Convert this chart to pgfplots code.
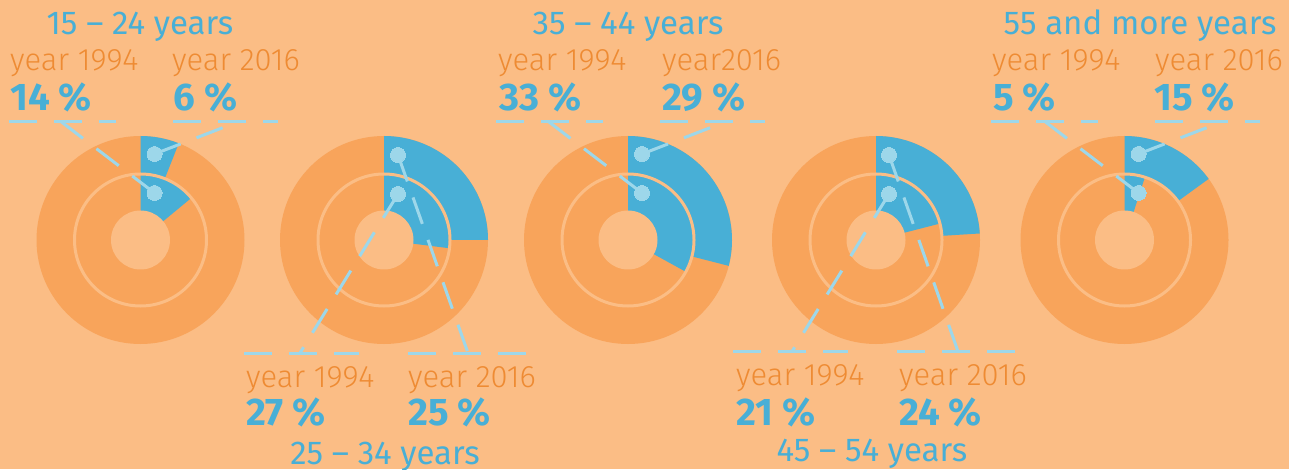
\documentclass[border=0pt]{standalone}
\usepackage{pgfplots}
\pgfplotsset{compat=1.18}
\usepackage{pgfplotstable}
\usepackage{fontspec}
\setmainfont{Fira Sans}
\newfontfamily\lightfont{Fira Sans Light}

\definecolor{bg}{RGB}{251,189,133}
\definecolor{ring}{RGB}{248,164,91}
\definecolor{share}{RGB}{72,175,214}
\definecolor{pinc}{RGB}{157,215,234}
\definecolor{lab}{RGB}{238,139,51}

% share of each age group, inner ring = 1994, outer ring = 2016
\pgfplotstableread{
cx     cy  p94 p16
140.5  229 14  6
384    229 27  25
628    229 33  29
876    229 21  24
1124.5 229 5   15
}\shares

% pins on the rings
\pgfplotstableread{
x      y
154.5  315
154.5  276
398    314
398    275
642    315
642    276
889    314
889    275
1138.5 315
1138.5 276
}\pins

% dashed leader lines from pins to labels
\pgfplotstableread{
x      y
154.5  315
237.5  347
nan    nan
154.5  276
61.5   347
nan    nan
398    314
468    116
nan    nan
398    275
300    116
nan    nan
642    315
725    347
nan    nan
642    276
549    347
nan    nan
889    314
958    117.5
nan    nan
889    275
792    117.5
nan    nan
1138.5 315
1221.5 347
nan    nan
1138.5 276
1045.5 347
}\links

% dashed rules under the labels
\pgfplotstableread{
x      y
8.5    347
115.5  347
nan    nan
172.5  347
277.5  347
nan    nan
496    347
603    347
nan    nan
660    347
765    347
nan    nan
991    347
1098   347
nan    nan
1155   347
1260   347
nan    nan
244    116
359    116
nan    nan
408    116
527    116
nan    nan
733    117.5
848    117.5
nan    nan
897    117.5
1016   117.5
}\rules

\newcommand\donut[4]{%
  \fill[ring] (axis cs:#1,#2) circle[radius=104pt];
  \fill[share] (axis cs:#1,#2) -- ++(90:104pt)
    arc[start angle=90, delta angle={-3.6*#4}, radius=104pt] -- cycle;
  \fill[ring] (axis cs:#1,#2) circle[radius=66pt];
  \fill[share] (axis cs:#1,#2) -- ++(90:65pt)
    arc[start angle=90, delta angle={-3.6*#3}, radius=65pt] -- cycle;
  \draw[bg, line width=3pt] (axis cs:#1,#2) circle[radius=66pt];
  \fill[bg] (axis cs:#1,#2) circle[radius=29.5pt];
}

\begin{document}
\begin{tikzpicture}[
  lbl/.style={anchor=base west, inner sep=0pt, text=lab, font=\lightfont\fontsize{31}{31}\selectfont},
  pct/.style={anchor=base west, inner sep=0pt, text=share, font=\bfseries\fontsize{38.5}{38.5}\selectfont},
  ttl/.style={anchor=base, inner sep=0pt, text=share, font=\fontsize{33}{33}\selectfont},
]
\begin{axis}[
  name=ax, x=1pt, y=1pt,
  xmin=0, xmax=1289, ymin=0, ymax=469,
  hide axis, clip=false,
]
\addplot[draw=none, fill=bg] coordinates {(0,0) (1289,0) (1289,469) (0,469)} -- cycle;

\pgfplotsinvokeforeach{0,...,4}{
  \pgfplotstablegetelem{#1}{cx}\of\shares \let\cx\pgfplotsretval
  \pgfplotstablegetelem{#1}{cy}\of\shares \let\cy\pgfplotsretval
  \pgfplotstablegetelem{#1}{p94}\of\shares \let\pa\pgfplotsretval
  \pgfplotstablegetelem{#1}{p16}\of\shares \let\pb\pgfplotsretval
  \edef\next{\noexpand\donut{\cx}{\cy}{\pa}{\pb}}\next
}

\addplot[draw=pinc, line width=3pt, dash pattern=on 28pt off 17pt, unbounded coords=jump] table {\links};
\addplot[draw=pinc, line width=3pt, dash pattern=on 28pt off 17pt, unbounded coords=jump] table {\rules};
\addplot[color=pinc, only marks, mark=*, mark size=7.5pt, mark options={solid, draw=pinc, fill=pinc, line width=0pt}] table {\pins};

% top row
\node[ttl] at (axis cs:140,434) {15 -- 24 years};
\node[lbl] at (axis cs:10,398) {year 1994};
\node[lbl] at (axis cs:172,398) {year 2016};
\node[pct] at (axis cs:10,358) {14 \%};
\node[pct] at (axis cs:173,358) {6 \%};

\node[ttl] at (axis cs:628,434) {35 -- 44 years};
\node[lbl] at (axis cs:498,398) {year 1994};
\node[lbl] at (axis cs:662,398) {year2016};
\node[pct] at (axis cs:499,358) {33 \%};
\node[pct] at (axis cs:662,358) {29 \%};

\node[ttl] at (axis cs:1140,434) {55 and more years};
\node[lbl] at (axis cs:992,398) {year 1994};
\node[lbl] at (axis cs:1155,398) {year 2016};
\node[pct] at (axis cs:993,358) {5 \%};
\node[pct] at (axis cs:1154,358) {15 \%};

% bottom row
\node[lbl] at (axis cs:246,82) {year 1994};
\node[lbl] at (axis cs:408,82) {year 2016};
\node[pct] at (axis cs:246,44) {27 \%};
\node[pct] at (axis cs:408,44) {25 \%};
\node[ttl] at (axis cs:385,5) {25 -- 34 years};

\node[lbl] at (axis cs:736,84) {year 1994};
\node[lbl] at (axis cs:899,84) {year 2016};
\node[pct] at (axis cs:736,44) {21 \%};
\node[pct] at (axis cs:899,44) {24 \%};
\node[ttl] at (axis cs:872,7.5) {45 -- 54 years};
\end{axis}
\pgfresetboundingbox
\path (ax.south west) rectangle (ax.north east);
\end{tikzpicture}
\end{document}
